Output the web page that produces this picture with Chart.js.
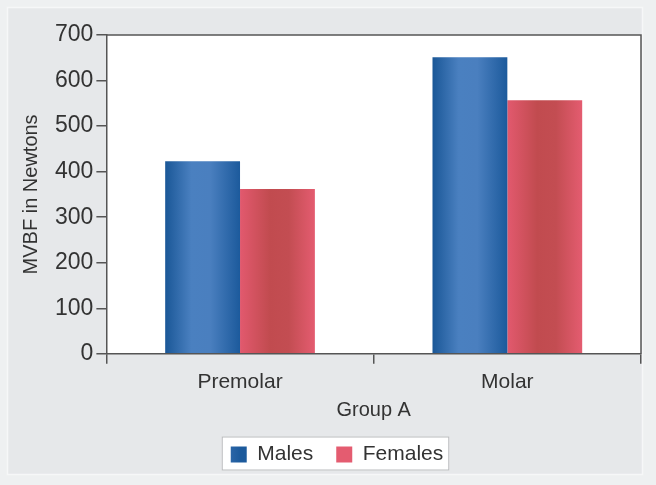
<!DOCTYPE html>
<html>
<head>
<meta charset="utf-8">
<script src="https://cdn.jsdelivr.net/npm/chart.js@4.4.1/dist/chart.umd.min.js"></script>
<style>
  html, body { margin: 0; padding: 0; background: #eef0f1; }
  #wrap { width: 656px; height: 485px; position: relative; }
</style>
</head>
<body>
<div id="wrap"><canvas id="mvbfChart"></canvas></div>
<script>
// data
const categories = ["Premolar", "Molar"];
const malesValues = [423, 651];
const femalesValues = [362, 557];
const seriesNames = ["Males", "Females"];
const yMax = 700;
const yStep = 100;

const blueStops = [[0, "#1a5797"], [0.35, "#4a80c0"], [0.6, "#4a7fbf"], [1, "#1c5a9c"]];
const redStops = [[0, "#e2596e"], [0.4, "#c14b4f"], [0.65, "#c34d52"], [1, "#e45c70"]];

function barGradient(ctx, stops) {
    const chart = ctx.chart;
    const meta = chart.getDatasetMeta(ctx.datasetIndex);
    const el = ctx.dataIndex !== undefined ? meta.data[ctx.dataIndex] : null;
    if (!el || !el.width) return stops[1][1];
    const left = el.x - el.width / 2;
    const g = chart.ctx.createLinearGradient(left, 0, left + el.width, 0);
    stops.forEach(s => g.addColorStop(s[0], s[1]));
    return g;
}

// panel, white plot area, legend box and top/right frame
const framePlugin = {
    id: "frame",
    afterUpdate(chart) {
        // the legend in the picture sits a little right of centre
        const lg = chart.legend;
        if (lg) {
            lg.left += 7;
            lg.right += 7;
            (lg.legendHitBoxes || []).forEach(h => { h.left += 7; });
        }
    },
    beforeDraw(chart) {
        const c = chart.ctx;
        const a = chart.chartArea;
        c.save();
        c.fillStyle = "#e6e8ea";
        c.fillRect(7, 7, 636, 468);
        c.strokeStyle = "#f6f7f8";
        c.lineWidth = 1.5;
        c.strokeRect(7.5, 7.5, 635, 467);
        c.fillStyle = "#ffffff";
        c.fillRect(a.left, a.top, a.right - a.left, a.bottom - a.top);

        const boxes = chart.legend && chart.legend.legendHitBoxes;
        if (boxes && boxes.length) {
            let l = Infinity, t = Infinity, r = -Infinity, b = -Infinity;
            boxes.forEach(h => {
                l = Math.min(l, h.left);
                t = Math.min(t, h.top);
                r = Math.max(r, h.left + h.width);
                b = Math.max(b, h.top + h.height);
            });
            const cy = (t + b) / 2;
            c.fillStyle = "#ffffff";
            c.fillRect(l - 9, cy - 18, r - l + 15, 34);
            c.strokeStyle = "#b8babc";
            c.lineWidth = 1;
            c.strokeRect(l - 8.5, cy - 17.5, r - l + 14, 33);
        }
        c.restore();
    },
    afterDraw(chart) {
        const c = chart.ctx;
        const a = chart.chartArea;
        c.save();
        c.strokeStyle = "#555555";
        c.lineWidth = 1.5;
        c.beginPath();
        c.moveTo(a.left, a.top);
        c.lineTo(a.right, a.top);
        c.lineTo(a.right, a.bottom);
        c.stroke();
        c.restore();
    }
};

const ctx = document.getElementById("mvbfChart").getContext("2d");
const chart = new Chart(ctx, {
    type: "bar",
    data: {
        labels: categories,
        datasets: [
            {
                label: seriesNames[0],
                data: malesValues,
                backgroundColor: c => barGradient(c, blueStops),
                borderWidth: 0
            },
            {
                label: seriesNames[1],
                data: femalesValues,
                backgroundColor: c => barGradient(c, redStops),
                borderWidth: 0
            }
        ]
    },
    options: {
        responsive: true,
        maintainAspectRatio: false,
        animation: false,
        layout: {
            padding: { left: 19, right: 15, top: 35, bottom: 10 }
        },
        datasets: {
            bar: { categoryPercentage: 0.56, barPercentage: 1.0 }
        },
        scales: {
            x: {
                grid: { drawOnChartArea: false, drawTicks: true, tickLength: 10, color: "#555555", lineWidth: 1.5 },
                border: { color: "#555555", width: 1.5 },
                ticks: { color: "#333333", font: { family: "Liberation Sans", size: 21 }, padding: 6 },
                title: {
                    display: true,
                    text: "Group A",
                    color: "#333333",
                    font: { family: "Liberation Sans", size: 20, lineHeight: 1 },
                    padding: { top: -1, bottom: 1 }
                }
            },
            y: {
                min: 0,
                max: yMax,
                grid: { drawOnChartArea: false, drawTicks: true, tickLength: 10, color: "#555555", lineWidth: 1.5 },
                border: { color: "#555555", width: 1.5 },
                ticks: { stepSize: yStep, color: "#333333", font: { family: "Liberation Sans", size: 23 }, padding: 3 },
                title: {
                    display: true,
                    text: "MVBF in Newtons",
                    color: "#333333",
                    font: { family: "Liberation Sans", size: 20 },
                    padding: { top: 0, bottom: 9 }
                }
            }
        },
        plugins: {
            legend: {
                display: true,
                position: "bottom",
                labels: {
                    boxWidth: 16,
                    boxHeight: 16,
                    padding: 23,
                    color: "#333333",
                    font: { family: "Liberation Sans", size: 21 }
                }
            },
            tooltip: { enabled: false }
        }
    },
    plugins: [framePlugin]
});
// second pass so the bar gradients know where each bar sits
chart.update("none");
</script>
</body>
</html>
